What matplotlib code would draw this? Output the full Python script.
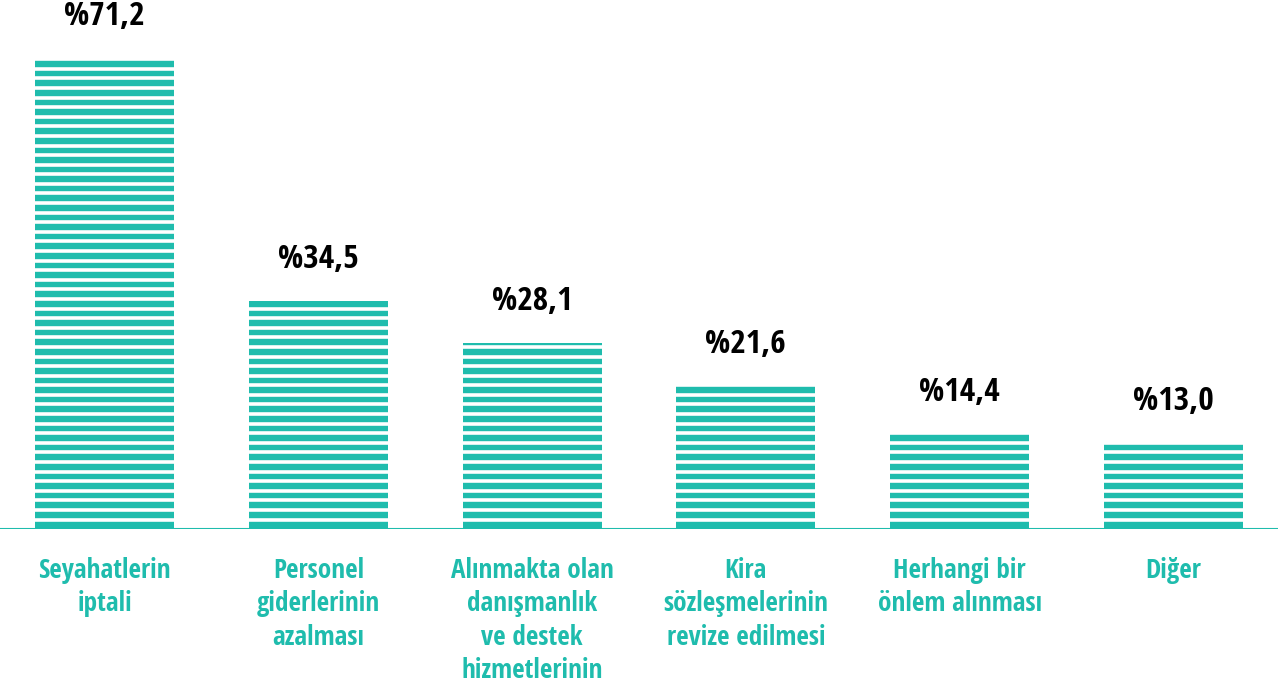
import numpy as np
import matplotlib.pyplot as plt
from matplotlib import font_manager

# pick a narrow bold font if we have one
names = set(f.name for f in font_manager.fontManager.ttflist)
narrow = [n for n in ['Liberation Sans Narrow', 'Open Sans Condensed', 'Roboto Condensed'] if n in names]
plt.rcParams['font.family'] = narrow + ['DejaVu Sans']

categories = ['Seyahatlerin\niptali',
              'Personel\ngiderlerinin\nazalması',
              'Alınmakta olan\ndanışmanlık\nve destek\nhizmetlerinin\nazalması',
              'Kira\nsözleşmelerinin\nrevize edilmesi',
              'Herhangi bir\nönlem alınması',
              'Diğer']
values = [71.2, 34.5, 28.1, 21.6, 14.4, 13.0]
labels = ['%71,2', '%34,5', '%28,1', '%21,6', '%14,4', '%13,0']

teal = '#1fbcad'

fig = plt.figure(figsize=(12.78, 6.89), dpi=100)
ax = fig.add_axes([0.0, 0.232, 1.0, 0.768])

x = np.arange(len(values))
ax.bar(x, values, width=0.65, color=teal, zorder=1)

# white stripes across the bars
for y in np.arange(1.45, 80, 1.45):
    ax.axhline(y, color='white', lw=2.6, zorder=2)

ax.axhline(0, color=teal, lw=1.5, zorder=3)

for xi, v, lab in zip(x, values, labels):
    ax.text(xi, v + 6.3, lab, ha='center', va='center', fontsize=24,
            fontweight='bold', color='black', zorder=4)

for xi, cat in zip(x, categories):
    ax.text(xi, -4.2, cat, ha='center', va='top', fontsize=19.5,
            fontweight='bold', color=teal, linespacing=1.3, clip_on=False)

ax.set_xlim(-0.49, 5.49)
ax.set_ylim(0, 80)
ax.axis('off')

fig.savefig('out.png', dpi=100)
